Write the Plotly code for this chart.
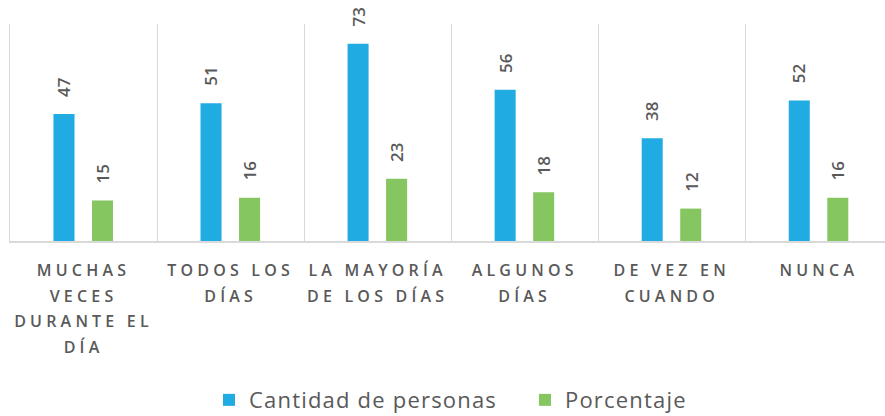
import plotly.graph_objects as go

categories = [
    "MUCHAS<br>VECES<br>DURANTE EL<br>DÍA",
    "TODOS LOS<br>DÍAS",
    "LA MAYORÍA<br>DE LOS DÍAS",
    "ALGUNOS<br>DÍAS",
    "DE VEZ EN<br>CUANDO",
    "NUNCA",
]
cantidad = [47, 51, 73, 56, 38, 52]
porcentaje = [15, 16, 23, 18, 12, 16]
series_names = ["Cantidad de personas", "Porcentaje"]

BLUE = "#20ABE2"
GREEN = "#86C661"
TXT = "#595959"
GRID = "#d9d9d9"
FONT = "Open Sans"

fig = go.Figure()
fig.add_trace(go.Bar(x=categories, y=cantidad, name=series_names[0],
                     marker=dict(color=BLUE, line=dict(width=0)),
                     width=0.143, offset=-0.2045))
fig.add_trace(go.Bar(x=categories, y=porcentaje, name=series_names[1],
                     marker=dict(color=GREEN, line=dict(width=0)),
                     width=0.143, offset=0.0575))

for vals, shift in ((cantidad, -19.5), (porcentaje, 19)):
    for c, v in zip(categories, vals):
        fig.add_annotation(x=c, y=v, text=str(v), showarrow=False,
                           textangle=-90, xanchor="center", yanchor="bottom",
                           xshift=shift, yshift=15,
                           font=dict(family=FONT, size=17, color=TXT,
                                     weight=600))

fig.update_layout(
    width=885, height=416,
    margin=dict(l=10, r=0, t=24, b=175, autoexpand=False),
    paper_bgcolor="white", plot_bgcolor="white",
    barmode="group",
    showlegend=True,
    legend=dict(orientation="h", x=0.2274, xanchor="left", y=-0.733,
                yanchor="middle", font=dict(family=FONT, size=22, color=TXT),
                entrywidthmode="pixels", entrywidth=271,
                itemclick=False, itemdoubleclick=False),
    xaxis=dict(type="category", range=[-0.5, 5.45], tickson="boundaries",
               showgrid=True, gridcolor=GRID, gridwidth=1,
               showline=True, linecolor=GRID, linewidth=1.5,
               ticks="", ticklabelstandoff=14,
               tickfont=dict(family=FONT, size=16, color=TXT, weight=600)),
    yaxis=dict(range=[0, 80.3], showgrid=False, zeroline=False,
               showticklabels=False, showline=True, linecolor=GRID,
               linewidth=1),
)

post = """
document.body.style.margin = '0';
document.body.style.overflow = 'hidden';
var gd = document.getElementById('{plot_id}');
gd.querySelectorAll('.xtick text').forEach(function(t){
  t.style.letterSpacing = '4.2px';
  t.querySelectorAll('tspan.line').forEach(function(s){
    var dy = parseFloat(s.getAttribute('dy') || '0');
    if (dy > 0) { s.setAttribute('dy', (dy * 1.6 / 1.3) + 'em'); }
  });
});
gd.querySelectorAll('.legendtext').forEach(function(t){
  t.style.letterSpacing = '1.2px';
});
"""

fig.write_html("out.html", post_script=post, config={"displayModeBar": False})
